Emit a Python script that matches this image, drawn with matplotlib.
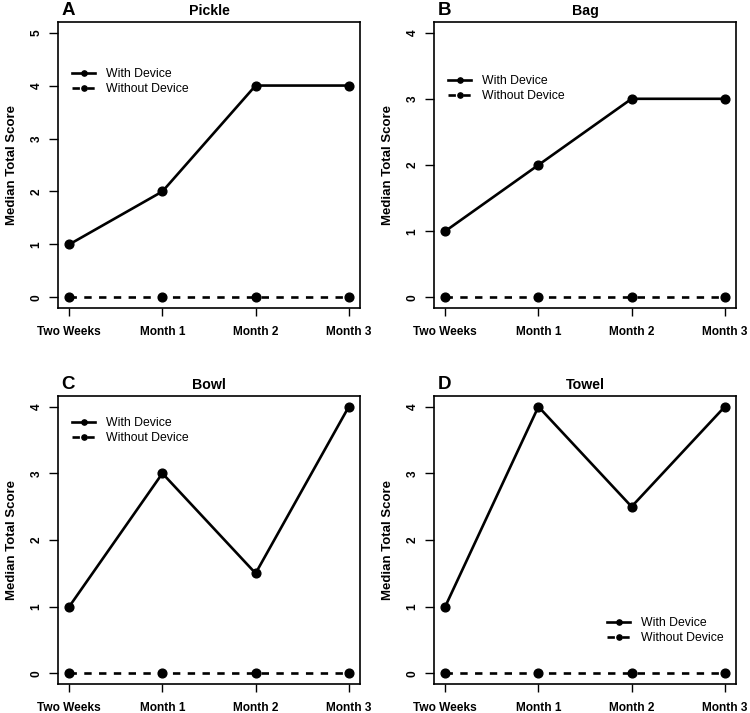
import matplotlib.pyplot as plt

plt.rcParams['font.family'] = ['Liberation Sans', 'DejaVu Sans']

timepoints = ['Two Weeks', 'Month 1', 'Month 2', 'Month 3']
tasks = ['Pickle', 'Bag', 'Bowl', 'Towel']
letters = ['A', 'B', 'C', 'D']
with_device = [
    [1, 2, 4, 4],
    [1, 2, 3, 3],
    [1, 3, 1.5, 4],
    [1, 4, 2.5, 4],
]
without_device = [
    [0, 0, 0, 0],
    [0, 0, 0, 0],
    [0, 0, 0, 0],
    [0, 0, 0, 0],
]
ymax = [5, 4, 4, 4]

W, H = 750, 713
fig = plt.figure(figsize=(W / 100, H / 100), dpi=100)

# axes boxes in pixels: left, top, right, bottom
boxes = [(58, 22, 360, 308), (434, 22, 736, 308),
         (58, 396, 360, 684), (434, 396, 736, 684)]
# legend anchor (axes fraction), center-left of the legend block
legend_anchor = [(0.046, 0.792), (0.046, 0.767), (0.046, 0.880), (0.573, 0.186)]

x = list(range(1, len(timepoints) + 1))
for i in range(4):
    l, t, r, b = boxes[i]
    ax = fig.add_axes([l / W, 1 - b / H, (r - l) / W, (b - t) / H])
    ax.plot(x, with_device[i], '-o', color='black', lw=1.9, ms=6.3, label='With Device')
    ax.plot(x, without_device[i], '--o', color='black', lw=1.9, ms=6.3,
            dashes=(2.8, 2.8), label='Without Device')
    ax.set_xlim(1 - 0.12, 4 + 0.12)
    ax.set_ylim(-0.04 * ymax[i], ymax[i] * 1.04)
    ax.set_xticks(x)
    ax.set_xticklabels(timepoints, fontweight='bold', fontsize=8.6)
    ax.set_yticks(range(0, ymax[i] + 1))
    ax.set_yticklabels([str(v) for v in range(0, ymax[i] + 1)], rotation=90,
                       va='center', fontweight='bold', fontsize=8.6)
    ax.tick_params(axis='x', length=6, width=1, pad=7)
    ax.tick_params(axis='y', length=6.5, width=1, pad=4.5)
    for s in ax.spines.values():
        s.set_linewidth(1.2)
    ax.set_ylabel('Median Total Score', fontweight='bold', fontsize=9.5, labelpad=9)
    ax.set_title(tasks[i], fontweight='bold', fontsize=10.2, pad=5)
    ax.text(0.012, 1.012, letters[i], transform=ax.transAxes, fontsize=13.5,
            fontweight='bold', va='bottom', ha='left')
    ax.legend(loc='center left', bbox_to_anchor=legend_anchor[i], frameon=False,
              fontsize=8.8, handlelength=1.9, handletextpad=0.9,
              labelspacing=0.25, markerscale=0.6, borderpad=0, borderaxespad=0)

fig.savefig('out.png', dpi=100)
